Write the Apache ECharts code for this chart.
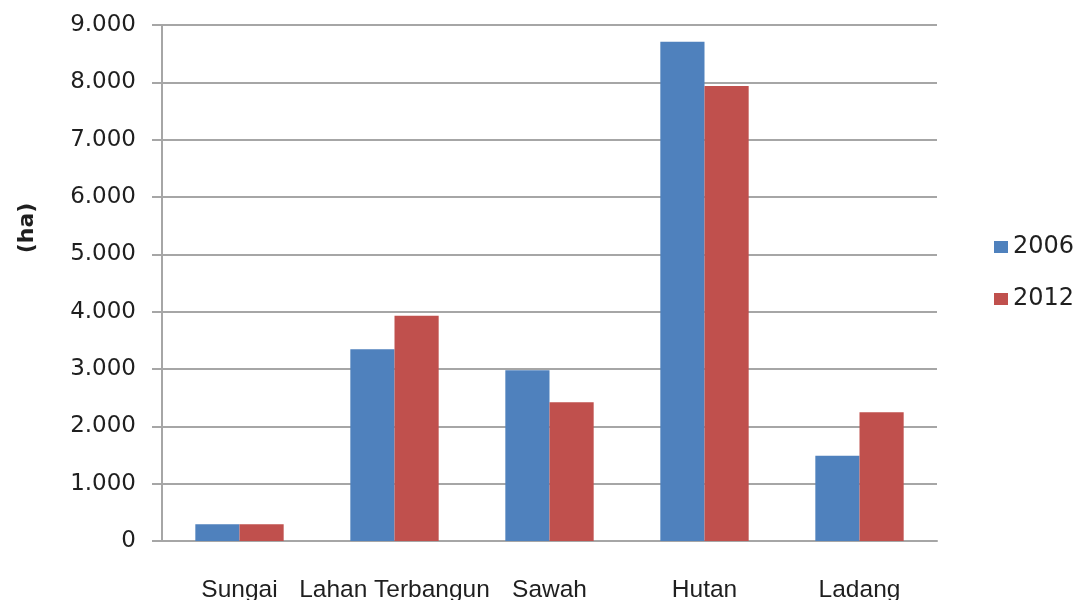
<!DOCTYPE html>
<html>
<head>
<meta charset="utf-8">
<script src="https://cdn.jsdelivr.net/npm/echarts@6/dist/echarts.min.js"></script>
<style>
  html, body { margin: 0; padding: 0; background: #fff; }
  #chart { width: 1085px; height: 600px; }
</style>
</head>
<body>
<div id="chart"></div>
<script>
// Land use area per category (ha), 2006 vs 2012
const categories = ['Sungai', 'Lahan Terbangun', 'Sawah', 'Hutan', 'Ladang'];
const values2006 = [290, 3345, 2980, 8710, 1485];
const values2012 = [290, 3930, 2420, 7935, 2245];
const seriesNames = ['2006', '2012'];
const yTicks = { min: 0, max: 9000, interval: 1000 };

const gridColor = '#a6a6a6';
const textColor = '#1f1f1f';

// Thousands separator as a dot: 9000 -> "9.000"
function fmt(v) {
  return String(v).replace(/\B(?=(\d{3})+(?!\d))/g, '.');
}

const chart = echarts.init(document.getElementById('chart'), null, { renderer: 'canvas' });
chart.setOption({
  animation: false,
  backgroundColor: '#ffffff',
  grid: { left: 162, right: 148, top: 25, bottom: 59, containLabel: false, outerBoundsMode: 'none' },
  legend: {
    orient: 'vertical',
    left: 989,
    top: 230,
    itemWidth: 14,
    itemHeight: 12,
    itemGap: 28,
    icon: 'rect',
    textStyle: { fontFamily: 'DejaVu Sans', fontSize: 24, color: textColor, lineHeight: 24 },
    data: seriesNames
  },
  xAxis: {
    type: 'category',
    data: categories,
    axisLine: { show: true, lineStyle: { color: gridColor, width: 2 } },
    axisTick: { show: false },
    axisLabel: {
      interval: 0,
      margin: 37,
      fontFamily: 'Liberation Sans',
      fontSize: 24.5,
      color: textColor
    }
  },
  yAxis: {
    type: 'value',
    min: yTicks.min,
    max: yTicks.max,
    interval: yTicks.interval,
    name: '(ha)',
    nameLocation: 'middle',
    nameRotate: 90,
    nameGap: 124,
    nameTextStyle: {
      fontFamily: 'DejaVu Sans', fontWeight: 'bold', fontSize: 22, color: textColor,
      padding: [0, 0, 0, 110]
    },
    axisLine: { show: true, lineStyle: { color: gridColor, width: 2 } },
    axisTick: { show: true, inside: false, length: 10, lineStyle: { color: gridColor, width: 2 } },
    splitLine: { show: true, lineStyle: { color: gridColor, width: 2 } },
    axisLabel: {
      margin: 26,
      fontFamily: 'DejaVu Sans',
      fontSize: 23,
      color: textColor,
      padding: [4, 0, 0, 0],
      formatter: fmt
    }
  },
  series: [
    {
      name: seriesNames[0],
      type: 'bar',
      data: values2006,
      barGap: '0%',
      barCategoryGap: '43%',
      itemStyle: { color: '#4f81bd' }
    },
    {
      name: seriesNames[1],
      type: 'bar',
      data: values2012,
      barGap: '0%',
      barCategoryGap: '43%',
      itemStyle: { color: '#c0504d' }
    }
  ]
});
</script>
</body>
</html>
